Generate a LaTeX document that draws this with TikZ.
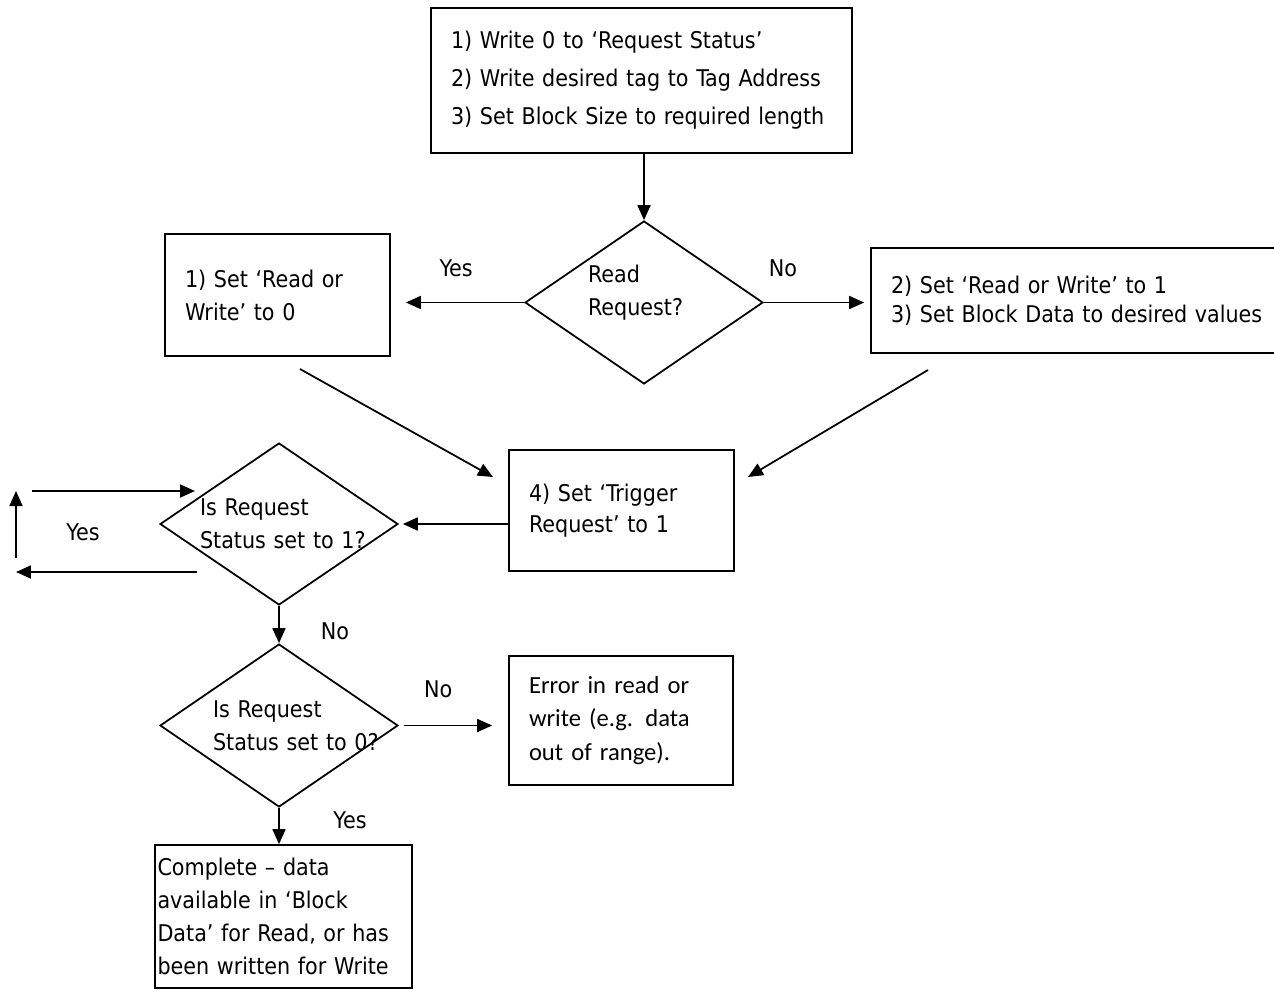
\documentclass[tikz,border=0pt]{standalone}
\usepackage{fontspec}
\setmainfont{DejaVu Sans Condensed}
\newfontfamily\noteFont{Carlito}
\usetikzlibrary{shapes.geometric,arrows.meta}

\begin{document}
\begin{tikzpicture}[
  x=0.02cm, y=-0.02cm,
  every node/.style={font={\fontsize{13.1}{18.8}\selectfont}},
  box/.style={draw, line width=1pt, align=left, inner xsep=0.4cm},
  decision/.style={draw, diamond, line width=1pt, inner sep=0pt, minimum width=4.76cm, minimum height=3.26cm},
  question/.style={align=left, inner sep=0pt, font={\fontsize{13.1}{19}\selectfont}},
  flow/.style={-{Triangle[length=0.3cm,width=0.26cm]}, line width=1pt},
  answer/.style={inner sep=0pt}]

\clip (0,0) rectangle (1274,991);
\useasboundingbox (0,0) rectangle (1274,991);

% Position the boxes and the decisions
\node[box, text width=7.62cm, minimum height=2.9cm, font={\fontsize{13.1}{21.6}\selectfont}] (setupRequest) at (641.5,80.5)
  {1) Write 0 to ‘Request Status’\\2) Write desired tag to Tag Address\\3) Set Block Size to required length};
\node[decision, label={[question, text width=2.24cm, yshift=0.2cm]center:Read\\Request?}] (readRequest) at (644,302.5) {};
\node[box, text width=3.7cm, minimum height=2.44cm] (setReadMode) at (277.5,295)
  {1) Set ‘Read or\\Write’ to 0};
\node[box, text width=7.6cm, minimum height=2.1cm, font={\fontsize{13.1}{16.5}\selectfont}] (setWriteMode) at (1081,300.5)
  {2) Set ‘Read or Write’ to 1\\3) Set Block Data to desired values};
\node[box, text width=3.7cm, minimum height=2.42cm, font={\fontsize{13.1}{17.6}\selectfont}] (triggerRequest) at (621.5,510.5)
  {4) Set ‘Trigger\\Request’ to 1};
\node[decision, minimum height=3.24cm, label={[question, text width=3.6cm, xshift=0.22cm]center:Is Request\\Status set to 1?}] (statusIsOne) at (279,524) {};
\node[decision, label={[question, text width=3.6cm, xshift=0.48cm]center:Is Request\\Status set to 0?}] (statusIsZero) at (279,725.5) {};
\node[box, text width=3.68cm, minimum height=2.58cm, font={\noteFont\fontsize{14}{19.3}\selectfont}] (errorReadWrite) at (621,720.5)
  {Error in read or\\write (e.g. data\\out of range).};
\node[box, inner xsep=0.05cm, text width=5.04cm, minimum height=2.86cm] (transferComplete) at (283.5,916.5)
  {Complete -- data\\available in ‘Block\\Data’ for Read, or has\\been written for Write};

% Free ends of the loose arrows
\coordinate (readDone) at (300,369);
\coordinate (readDoneTip) at (493,477);
\coordinate (writeDone) at (928,370);
\coordinate (writeDoneTip) at (748,477);
\coordinate (loopBack) at (197,572);
\coordinate (loopBackTip) at (16,572);
\coordinate (loopUp) at (16,558);
\coordinate (loopUpTip) at (16,491);
\coordinate (loopIn) at (32,491);
\coordinate (loopInTip) at (195,491);

% Draw the arrows between the nodes and label them.
\draw [flow] (setupRequest.south -| readRequest.north) -- (readRequest.north);
\draw [flow, shorten >=0.3cm] (readRequest.west) -- (setReadMode.east |- readRequest.west)
  node[answer, pos=0.51, yshift=0.68cm] {Yes};
\draw [flow, shorten >=0.12cm] (readRequest.east) -- (setWriteMode.west |- readRequest.east)
  node[answer, pos=0.18, yshift=0.68cm] {No};
\draw [flow] (readDone) -- (readDoneTip);
\draw [flow] (writeDone) -- (writeDoneTip);
\draw [flow, shorten >=0.08cm] (triggerRequest.west |- statusIsOne.east) -- (statusIsOne.east);
\draw [flow] (loopBack) -- (loopBackTip);
\draw [flow] (loopUp) -- (loopUpTip)
  node[answer, pos=0.38, xshift=1.34cm] {Yes};
\draw [flow] (loopIn) -- (loopInTip);
\draw [flow] (statusIsOne.south) -- (statusIsZero.north)
  node[answer, pos=0.69, xshift=1.12cm] {No};
\draw [flow, shorten <=0.1cm, shorten >=0.32cm] (statusIsZero.east) -- (statusIsZero.east -| errorReadWrite.west)
  node[answer, pos=0.36, yshift=0.72cm] {No};
\draw [flow] (statusIsZero.south) -- (statusIsZero.south |- transferComplete.north)
  node[answer, pos=0.34, xshift=1.42cm] {Yes};

\end{tikzpicture}
\end{document}
